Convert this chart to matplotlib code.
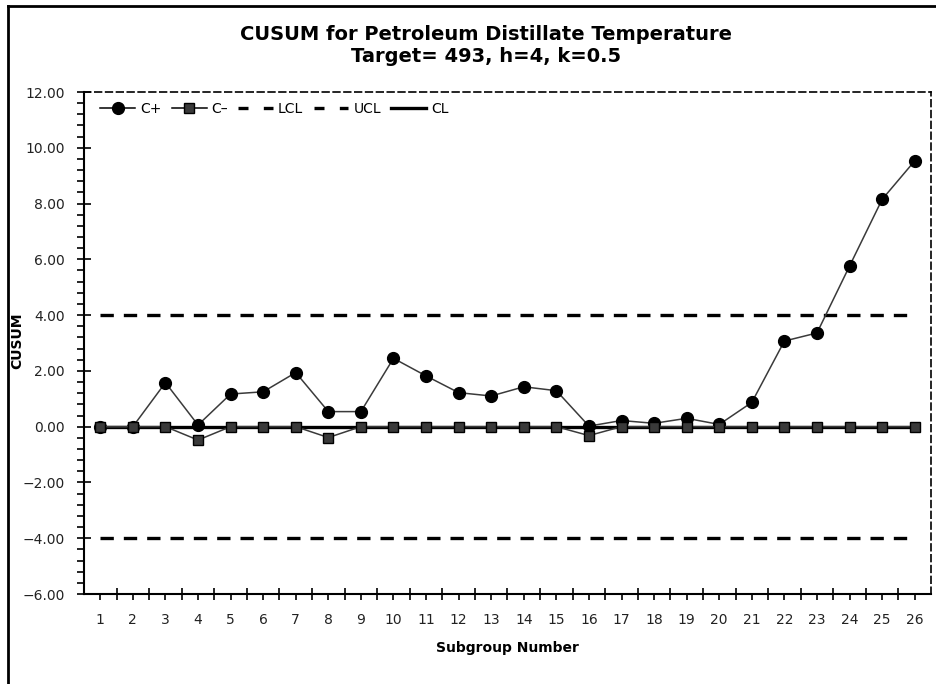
import numpy as np
import matplotlib
matplotlib.use("Agg")
import matplotlib.pyplot as plt
from matplotlib.lines import Line2D
from matplotlib.ticker import MultipleLocator, FixedLocator

# valori
subgroups = list(range(1, 27))
c_plus = [0.0, 0.0, 1.58, 0.06, 1.17, 1.25, 1.94, 0.54, 0.54, 2.45,
          1.82, 1.22, 1.10, 1.43, 1.29, 0.02, 0.22, 0.12, 0.30, 0.08,
          0.87, 3.07, 3.36, 5.76, 8.15, 9.53]
c_minus = [0.0, 0.0, 0.0, -0.48, 0.0, 0.0, 0.0, -0.39, 0.0, 0.0,
           0.0, 0.0, 0.0, 0.0, 0.0, -0.32, 0.0, 0.0, 0.0, 0.0,
           0.0, 0.0, 0.0, 0.0, 0.0, 0.0]
ucl = 4.0
lcl = -4.0
cl = 0.0

plt.rcParams['font.family'] = ['DejaVu Sans']
plt.rcParams['axes.unicode_minus'] = True

fig = plt.figure(figsize=(9.37, 6.84), dpi=100)
ax = fig.add_axes([84 / 937, 1 - 594 / 684, (931 - 84) / 937, (594 - 92) / 684])

x = np.array(subgroups)
dash = (0, (4, 3))
ax.plot(x, np.full(len(x), cl), color='black', lw=2.4, zorder=2)
ax.plot(x, np.full(len(x), lcl), color='black', lw=2.4, linestyle=dash, zorder=2)
ax.plot(x, np.full(len(x), ucl), color='black', lw=2.4, linestyle=dash, zorder=2)
ax.plot(x, c_plus, color='#3a3a3a', lw=1.1, marker='o', markersize=8.5,
        markerfacecolor='black', markeredgecolor='black', zorder=3)
ax.plot(x, c_minus, color='#3a3a3a', lw=1.1, marker='s', markersize=7,
        markerfacecolor='#3a3a3a', markeredgecolor='black', zorder=4)

# legenda
leg_dash = (0, (3, 4.6))
handles = [
    Line2D([], [], color='black', lw=1.1, marker='o', markersize=8.5),
    Line2D([], [], color='black', lw=1.1, marker='s', markersize=7,
           markerfacecolor='#3a3a3a'),
    Line2D([], [], color='black', lw=2.4, linestyle=leg_dash),
    Line2D([], [], color='black', lw=2.4, linestyle=leg_dash),
    Line2D([], [], color='black', lw=2.4),
]
labels = ['C+', 'C\u2013', 'LCL', 'UCL', 'CL']
ax.legend(handles, labels, loc='upper left', ncol=5, frameon=False,
          handlelength=2.5, handletextpad=0.35, columnspacing=0.75,
          fontsize=10, bbox_to_anchor=(0.008, 1.0), borderaxespad=0.3)

ax.set_xlim(0.5, 26.5)
ax.set_ylim(-6, 12)
ax.set_xticks(subgroups)
ax.set_xticklabels([str(s) for s in subgroups])
ax.xaxis.set_minor_locator(FixedLocator(np.arange(1.5, 26.5, 1.0)))
ax.yaxis.set_major_locator(MultipleLocator(2))
ax.yaxis.set_minor_locator(MultipleLocator(0.4))
ax.set_yticklabels([f"{v:.2f}".replace('-', '\u2212') for v in ax.get_yticks()])

ax.tick_params(axis='x', which='major', direction='out', length=4, width=1.2,
               labelsize=10, pad=10, colors='black', labelcolor='#222222')
ax.tick_params(axis='x', which='minor', direction='inout', length=9, width=1.2)
ax.tick_params(axis='y', which='major', direction='inout', length=10, width=1.2,
               labelsize=10, pad=9, labelcolor='#222222')
ax.tick_params(axis='y', which='minor', direction='out', length=5, width=1.2)

for side in ['left', 'bottom']:
    ax.spines[side].set_linewidth(1.5)
for side in ['top', 'right']:
    ax.spines[side].set_linewidth(1.2)
    ax.spines[side].set_linestyle((0, (4, 2.5)))

ax.set_xlabel('Subgroup Number', fontsize=10, fontweight='bold', labelpad=10)
ax.set_ylabel('CUSUM', fontsize=10, fontweight='bold')
ax.yaxis.set_label_coords(-0.07, 0.504)

fig.text(486 / 937, 1 - 46 / 684, 'CUSUM for Petroleum Distillate Temperature\nTarget= 493, h=4, k=0.5',
         ha='center', va='center', fontsize=14, fontweight='bold', linespacing=1.2)

# cornice della figura
fig.add_artist(Line2D([8 / 937, 8 / 937], [0, 1 - 6 / 684], color='black', lw=2,
                      transform=fig.transFigure))
fig.add_artist(Line2D([8 / 937, 1], [1 - 6 / 684, 1 - 6 / 684], color='black', lw=2,
                      transform=fig.transFigure))

fig.savefig('out.png', dpi=100)
